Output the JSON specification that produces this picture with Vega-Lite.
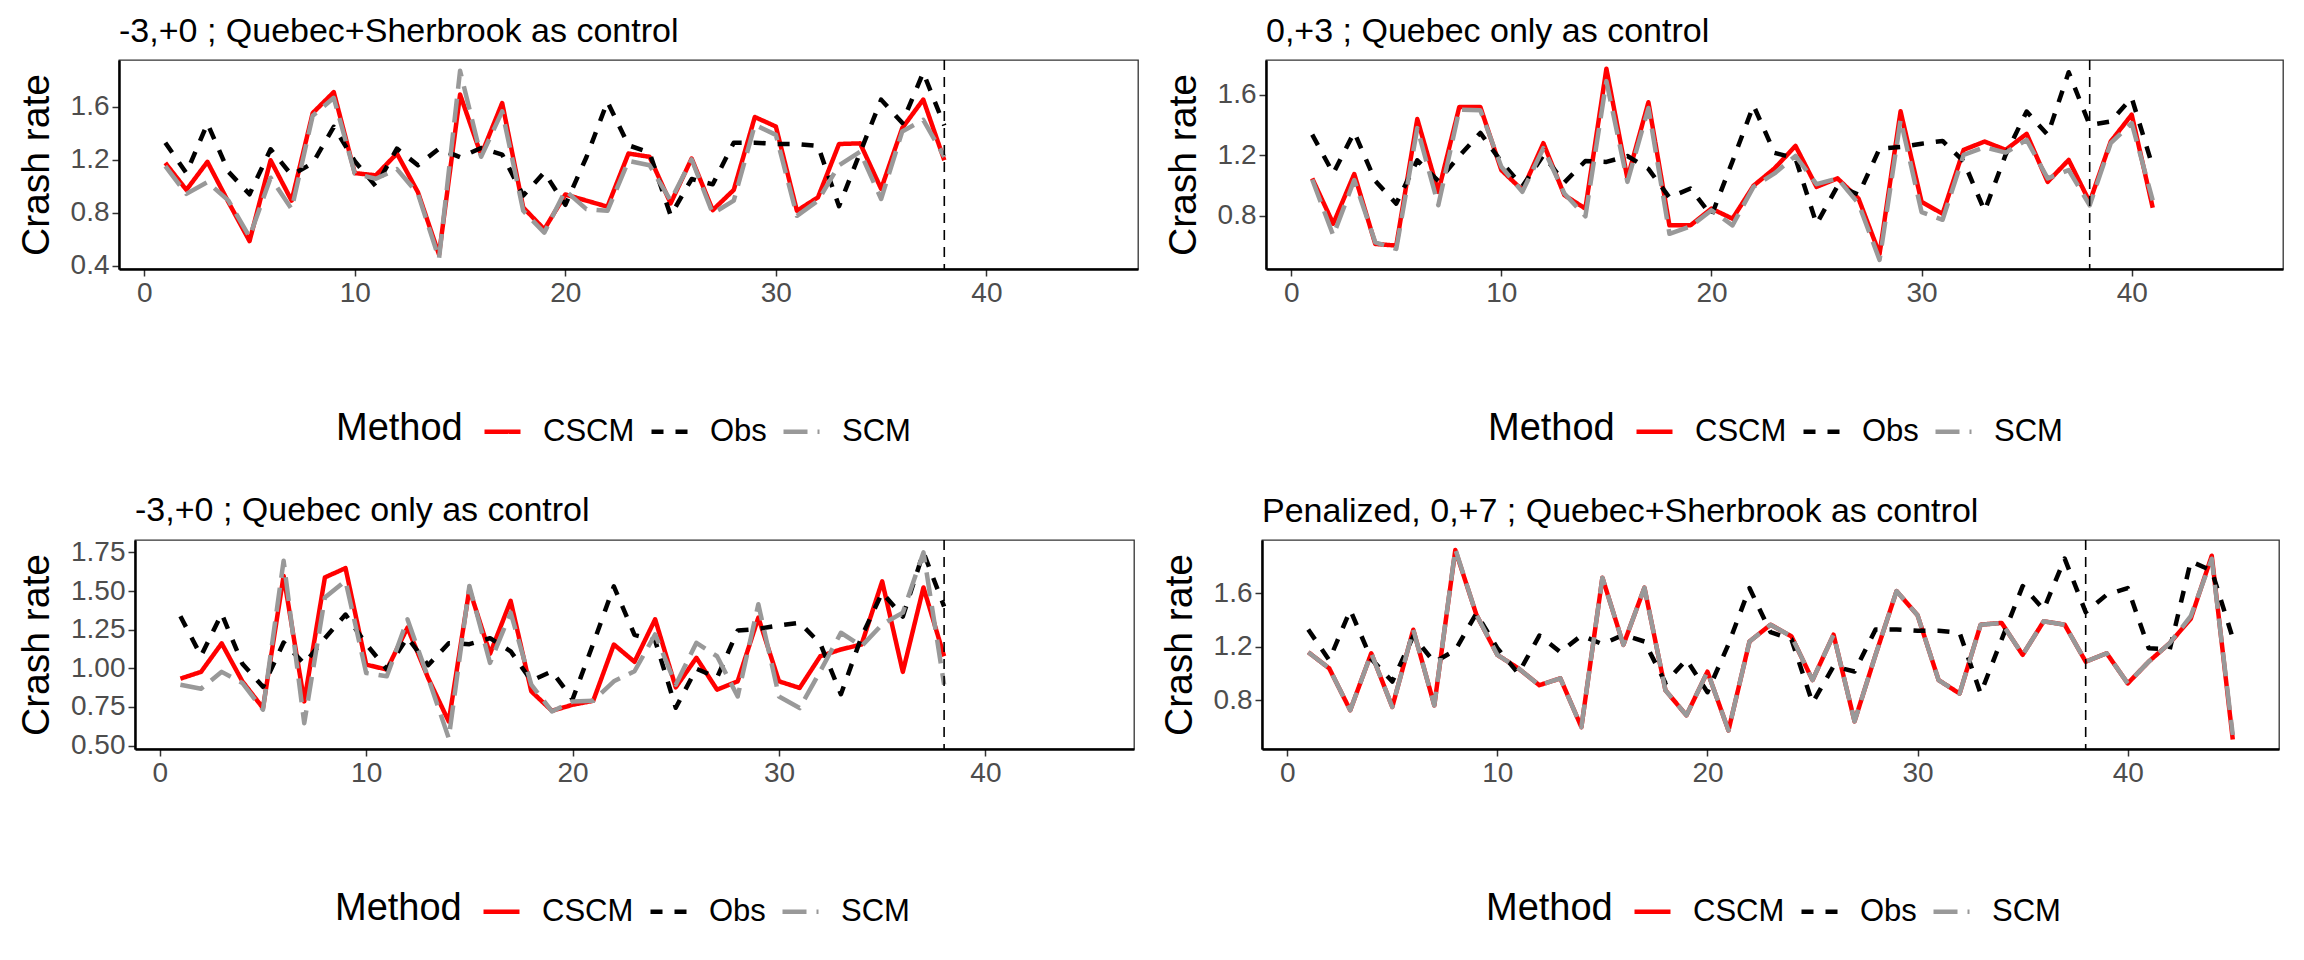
{
  "$schema": "https://vega.github.io/schema/vega-lite/v6.json",
  "padding": {"left": 15, "top": 14, "right": 10, "bottom": 10},
  "background": "white",
  "datasets": {
    "tl": [
      {"t":1,"Method":"CSCM","rate":1.177},{"t":2,"Method":"CSCM","rate":0.973},{"t":3,"Method":"CSCM","rate":1.185},{"t":4,"Method":"CSCM","rate":0.88},{"t":5,"Method":"CSCM","rate":0.586},{"t":6,"Method":"CSCM","rate":1.197},{"t":7,"Method":"CSCM","rate":0.892},{"t":8,"Method":"CSCM","rate":1.554},{"t":9,"Method":"CSCM","rate":1.712},{"t":10,"Method":"CSCM","rate":1.1},{"t":11,"Method":"CSCM","rate":1.083},{"t":12,"Method":"CSCM","rate":1.248},{"t":13,"Method":"CSCM","rate":0.955},{"t":14,"Method":"CSCM","rate":0.484},{"t":15,"Method":"CSCM","rate":1.694},{"t":16,"Method":"CSCM","rate":1.236},{"t":17,"Method":"CSCM","rate":1.63},{"t":18,"Method":"CSCM","rate":0.84},{"t":19,"Method":"CSCM","rate":0.675},{"t":20,"Method":"CSCM","rate":0.938},{"t":21,"Method":"CSCM","rate":0.892},{"t":22,"Method":"CSCM","rate":0.846},{"t":23,"Method":"CSCM","rate":1.248},{"t":24,"Method":"CSCM","rate":1.223},{"t":25,"Method":"CSCM","rate":0.871},{"t":26,"Method":"CSCM","rate":1.21},{"t":27,"Method":"CSCM","rate":0.82},{"t":28,"Method":"CSCM","rate":0.973},{"t":29,"Method":"CSCM","rate":1.524},{"t":30,"Method":"CSCM","rate":1.452},{"t":31,"Method":"CSCM","rate":0.815},{"t":32,"Method":"CSCM","rate":0.917},{"t":33,"Method":"CSCM","rate":1.32},{"t":34,"Method":"CSCM","rate":1.325},{"t":35,"Method":"CSCM","rate":0.981},{"t":36,"Method":"CSCM","rate":1.44},{"t":37,"Method":"CSCM","rate":1.656},{"t":38,"Method":"CSCM","rate":1.197},
      {"t":1,"Method":"Obs","rate":1.33},{"t":2,"Method":"Obs","rate":1.1},{"t":3,"Method":"Obs","rate":1.475},{"t":4,"Method":"Obs","rate":1.11},{"t":5,"Method":"Obs","rate":0.94},{"t":6,"Method":"Obs","rate":1.28},{"t":7,"Method":"Obs","rate":1.085},{"t":8,"Method":"Obs","rate":1.175},{"t":9,"Method":"Obs","rate":1.45},{"t":10,"Method":"Obs","rate":1.19},{"t":11,"Method":"Obs","rate":1.0},{"t":12,"Method":"Obs","rate":1.285},{"t":13,"Method":"Obs","rate":1.16},{"t":14,"Method":"Obs","rate":1.285},{"t":15,"Method":"Obs","rate":1.22},{"t":16,"Method":"Obs","rate":1.29},{"t":17,"Method":"Obs","rate":1.24},{"t":18,"Method":"Obs","rate":0.93},{"t":19,"Method":"Obs","rate":1.105},{"t":20,"Method":"Obs","rate":0.86},{"t":21,"Method":"Obs","rate":1.22},{"t":22,"Method":"Obs","rate":1.64},{"t":23,"Method":"Obs","rate":1.31},{"t":24,"Method":"Obs","rate":1.255},{"t":25,"Method":"Obs","rate":0.78},{"t":26,"Method":"Obs","rate":1.055},{"t":27,"Method":"Obs","rate":1.015},{"t":28,"Method":"Obs","rate":1.33},{"t":29,"Method":"Obs","rate":1.33},{"t":30,"Method":"Obs","rate":1.32},{"t":31,"Method":"Obs","rate":1.32},{"t":32,"Method":"Obs","rate":1.305},{"t":33,"Method":"Obs","rate":0.85},{"t":34,"Method":"Obs","rate":1.255},{"t":35,"Method":"Obs","rate":1.655},{"t":36,"Method":"Obs","rate":1.48},{"t":37,"Method":"Obs","rate":1.86},{"t":38,"Method":"Obs","rate":1.46},
      {"t":1,"Method":"SCM","rate":1.152},{"t":2,"Method":"SCM","rate":0.943},{"t":3,"Method":"SCM","rate":1.032},{"t":4,"Method":"SCM","rate":0.892},{"t":5,"Method":"SCM","rate":0.617},{"t":6,"Method":"SCM","rate":1.065},{"t":7,"Method":"SCM","rate":0.828},{"t":8,"Method":"SCM","rate":1.534},{"t":9,"Method":"SCM","rate":1.669},{"t":10,"Method":"SCM","rate":1.096},{"t":11,"Method":"SCM","rate":1.057},{"t":12,"Method":"SCM","rate":1.13},{"t":13,"Method":"SCM","rate":0.943},{"t":14,"Method":"SCM","rate":0.453},{"t":15,"Method":"SCM","rate":1.873},{"t":16,"Method":"SCM","rate":1.223},{"t":17,"Method":"SCM","rate":1.567},{"t":18,"Method":"SCM","rate":0.815},{"t":19,"Method":"SCM","rate":0.65},{"t":20,"Method":"SCM","rate":0.968},{"t":21,"Method":"SCM","rate":0.828},{"t":22,"Method":"SCM","rate":0.815},{"t":23,"Method":"SCM","rate":1.192},{"t":24,"Method":"SCM","rate":1.159},{"t":25,"Method":"SCM","rate":0.892},{"t":26,"Method":"SCM","rate":1.203},{"t":27,"Method":"SCM","rate":0.795},{"t":28,"Method":"SCM","rate":0.892},{"t":29,"Method":"SCM","rate":1.465},{"t":30,"Method":"SCM","rate":1.389},{"t":31,"Method":"SCM","rate":0.777},{"t":32,"Method":"SCM","rate":0.892},{"t":33,"Method":"SCM","rate":1.159},{"t":34,"Method":"SCM","rate":1.261},{"t":35,"Method":"SCM","rate":0.904},{"t":36,"Method":"SCM","rate":1.414},{"t":37,"Method":"SCM","rate":1.503},{"t":38,"Method":"SCM","rate":1.223}
    ],
    "tr": [
      {"t":1,"Method":"CSCM","rate":1.047},{"t":2,"Method":"CSCM","rate":0.747},{"t":3,"Method":"CSCM","rate":1.076},{"t":4,"Method":"CSCM","rate":0.613},{"t":5,"Method":"CSCM","rate":0.602},{"t":6,"Method":"CSCM","rate":1.44},{"t":7,"Method":"CSCM","rate":0.958},{"t":8,"Method":"CSCM","rate":1.52},{"t":9,"Method":"CSCM","rate":1.52},{"t":10,"Method":"CSCM","rate":1.102},{"t":11,"Method":"CSCM","rate":0.969},{"t":12,"Method":"CSCM","rate":1.28},{"t":13,"Method":"CSCM","rate":0.936},{"t":14,"Method":"CSCM","rate":0.847},{"t":15,"Method":"CSCM","rate":1.773},{"t":16,"Method":"CSCM","rate":1.047},{"t":17,"Method":"CSCM","rate":1.551},{"t":18,"Method":"CSCM","rate":0.736},{"t":19,"Method":"CSCM","rate":0.736},{"t":20,"Method":"CSCM","rate":0.847},{"t":21,"Method":"CSCM","rate":0.78},{"t":22,"Method":"CSCM","rate":0.998},{"t":23,"Method":"CSCM","rate":1.113},{"t":24,"Method":"CSCM","rate":1.262},{"t":25,"Method":"CSCM","rate":0.991},{"t":26,"Method":"CSCM","rate":1.047},{"t":27,"Method":"CSCM","rate":0.913},{"t":28,"Method":"CSCM","rate":0.547},{"t":29,"Method":"CSCM","rate":1.491},{"t":30,"Method":"CSCM","rate":0.891},{"t":31,"Method":"CSCM","rate":0.813},{"t":32,"Method":"CSCM","rate":1.236},{"t":33,"Method":"CSCM","rate":1.291},{"t":34,"Method":"CSCM","rate":1.236},{"t":35,"Method":"CSCM","rate":1.342},{"t":36,"Method":"CSCM","rate":1.024},{"t":37,"Method":"CSCM","rate":1.169},{"t":38,"Method":"CSCM","rate":0.891},{"t":39,"Method":"CSCM","rate":1.291},{"t":40,"Method":"CSCM","rate":1.469},{"t":41,"Method":"CSCM","rate":0.853},
      {"t":1,"Method":"Obs","rate":1.337},{"t":2,"Method":"Obs","rate":1.08},{"t":3,"Method":"Obs","rate":1.353},{"t":4,"Method":"Obs","rate":1.03},{"t":5,"Method":"Obs","rate":0.88},{"t":6,"Method":"Obs","rate":1.167},{"t":7,"Method":"Obs","rate":1.03},{"t":8,"Method":"Obs","rate":1.195},{"t":9,"Method":"Obs","rate":1.348},{"t":10,"Method":"Obs","rate":1.157},{"t":11,"Method":"Obs","rate":0.994},{"t":12,"Method":"Obs","rate":1.2},{"t":13,"Method":"Obs","rate":1.02},{"t":14,"Method":"Obs","rate":1.162},{"t":15,"Method":"Obs","rate":1.156},{"t":16,"Method":"Obs","rate":1.195},{"t":17,"Method":"Obs","rate":1.11},{"t":18,"Method":"Obs","rate":0.92},{"t":19,"Method":"Obs","rate":0.98},{"t":20,"Method":"Obs","rate":0.8},{"t":21,"Method":"Obs","rate":1.16},{"t":22,"Method":"Obs","rate":1.53},{"t":23,"Method":"Obs","rate":1.216},{"t":24,"Method":"Obs","rate":1.18},{"t":25,"Method":"Obs","rate":0.745},{"t":26,"Method":"Obs","rate":0.997},{"t":27,"Method":"Obs","rate":0.94},{"t":28,"Method":"Obs","rate":1.244},{"t":29,"Method":"Obs","rate":1.255},{"t":30,"Method":"Obs","rate":1.277},{"t":31,"Method":"Obs","rate":1.295},{"t":32,"Method":"Obs","rate":1.16},{"t":33,"Method":"Obs","rate":0.832},{"t":34,"Method":"Obs","rate":1.204},{"t":35,"Method":"Obs","rate":1.49},{"t":36,"Method":"Obs","rate":1.335},{"t":37,"Method":"Obs","rate":1.75},{"t":38,"Method":"Obs","rate":1.4},{"t":39,"Method":"Obs","rate":1.424},{"t":40,"Method":"Obs","rate":1.58},{"t":41,"Method":"Obs","rate":1.124},
      {"t":1,"Method":"SCM","rate":1.04},{"t":2,"Method":"SCM","rate":0.669},{"t":3,"Method":"SCM","rate":1.036},{"t":4,"Method":"SCM","rate":0.624},{"t":5,"Method":"SCM","rate":0.58},{"t":6,"Method":"SCM","rate":1.38},{"t":7,"Method":"SCM","rate":0.869},{"t":8,"Method":"SCM","rate":1.502},{"t":9,"Method":"SCM","rate":1.498},{"t":10,"Method":"SCM","rate":1.124},{"t":11,"Method":"SCM","rate":0.958},{"t":12,"Method":"SCM","rate":1.247},{"t":13,"Method":"SCM","rate":0.947},{"t":14,"Method":"SCM","rate":0.796},{"t":15,"Method":"SCM","rate":1.691},{"t":16,"Method":"SCM","rate":1.024},{"t":17,"Method":"SCM","rate":1.513},{"t":18,"Method":"SCM","rate":0.68},{"t":19,"Method":"SCM","rate":0.729},{"t":20,"Method":"SCM","rate":0.836},{"t":21,"Method":"SCM","rate":0.736},{"t":22,"Method":"SCM","rate":0.991},{"t":23,"Method":"SCM","rate":1.08},{"t":24,"Method":"SCM","rate":1.196},{"t":25,"Method":"SCM","rate":1.009},{"t":26,"Method":"SCM","rate":1.047},{"t":27,"Method":"SCM","rate":0.88},{"t":28,"Method":"SCM","rate":0.507},{"t":29,"Method":"SCM","rate":1.436},{"t":30,"Method":"SCM","rate":0.824},{"t":31,"Method":"SCM","rate":0.773},{"t":32,"Method":"SCM","rate":1.202},{"t":33,"Method":"SCM","rate":1.253},{"t":34,"Method":"SCM","rate":1.218},{"t":35,"Method":"SCM","rate":1.302},{"t":36,"Method":"SCM","rate":1.047},{"t":37,"Method":"SCM","rate":1.102},{"t":38,"Method":"SCM","rate":0.869},{"t":39,"Method":"SCM","rate":1.28},{"t":40,"Method":"SCM","rate":1.413},{"t":41,"Method":"SCM","rate":0.902}
    ],
    "bl": [
      {"t":1,"Method":"CSCM","rate":0.933},{"t":2,"Method":"CSCM","rate":0.977},{"t":3,"Method":"CSCM","rate":1.161},{"t":4,"Method":"CSCM","rate":0.916},{"t":5,"Method":"CSCM","rate":0.743},{"t":6,"Method":"CSCM","rate":1.598},{"t":7,"Method":"CSCM","rate":0.786},{"t":8,"Method":"CSCM","rate":1.588},{"t":9,"Method":"CSCM","rate":1.648},{"t":10,"Method":"CSCM","rate":1.024},{"t":11,"Method":"CSCM","rate":0.992},{"t":12,"Method":"CSCM","rate":1.263},{"t":13,"Method":"CSCM","rate":0.938},{"t":14,"Method":"CSCM","rate":0.656},{"t":15,"Method":"CSCM","rate":1.512},{"t":16,"Method":"CSCM","rate":1.094},{"t":17,"Method":"CSCM","rate":1.436},{"t":18,"Method":"CSCM","rate":0.851},{"t":19,"Method":"CSCM","rate":0.725},{"t":20,"Method":"CSCM","rate":0.764},{"t":21,"Method":"CSCM","rate":0.79},{"t":22,"Method":"CSCM","rate":1.154},{"t":23,"Method":"CSCM","rate":1.042},{"t":24,"Method":"CSCM","rate":1.317},{"t":25,"Method":"CSCM","rate":0.877},{"t":26,"Method":"CSCM","rate":1.068},{"t":27,"Method":"CSCM","rate":0.862},{"t":28,"Method":"CSCM","rate":0.916},{"t":29,"Method":"CSCM","rate":1.328},{"t":30,"Method":"CSCM","rate":0.916},{"t":31,"Method":"CSCM","rate":0.873},{"t":32,"Method":"CSCM","rate":1.078},{"t":33,"Method":"CSCM","rate":1.122},{"t":34,"Method":"CSCM","rate":1.154},{"t":35,"Method":"CSCM","rate":1.562},{"t":36,"Method":"CSCM","rate":0.977},{"t":37,"Method":"CSCM","rate":1.523},{"t":38,"Method":"CSCM","rate":1.078},
      {"t":1,"Method":"Obs","rate":1.337},{"t":2,"Method":"Obs","rate":1.08},{"t":3,"Method":"Obs","rate":1.353},{"t":4,"Method":"Obs","rate":1.03},{"t":5,"Method":"Obs","rate":0.88},{"t":6,"Method":"Obs","rate":1.167},{"t":7,"Method":"Obs","rate":1.03},{"t":8,"Method":"Obs","rate":1.195},{"t":9,"Method":"Obs","rate":1.348},{"t":10,"Method":"Obs","rate":1.157},{"t":11,"Method":"Obs","rate":0.994},{"t":12,"Method":"Obs","rate":1.2},{"t":13,"Method":"Obs","rate":1.02},{"t":14,"Method":"Obs","rate":1.162},{"t":15,"Method":"Obs","rate":1.156},{"t":16,"Method":"Obs","rate":1.195},{"t":17,"Method":"Obs","rate":1.11},{"t":18,"Method":"Obs","rate":0.92},{"t":19,"Method":"Obs","rate":0.98},{"t":20,"Method":"Obs","rate":0.8},{"t":21,"Method":"Obs","rate":1.16},{"t":22,"Method":"Obs","rate":1.53},{"t":23,"Method":"Obs","rate":1.216},{"t":24,"Method":"Obs","rate":1.18},{"t":25,"Method":"Obs","rate":0.745},{"t":26,"Method":"Obs","rate":0.997},{"t":27,"Method":"Obs","rate":0.94},{"t":28,"Method":"Obs","rate":1.244},{"t":29,"Method":"Obs","rate":1.255},{"t":30,"Method":"Obs","rate":1.277},{"t":31,"Method":"Obs","rate":1.295},{"t":32,"Method":"Obs","rate":1.16},{"t":33,"Method":"Obs","rate":0.832},{"t":34,"Method":"Obs","rate":1.204},{"t":35,"Method":"Obs","rate":1.49},{"t":36,"Method":"Obs","rate":1.335},{"t":37,"Method":"Obs","rate":1.75},{"t":38,"Method":"Obs","rate":1.4},
      {"t":1,"Method":"SCM","rate":0.894},{"t":2,"Method":"SCM","rate":0.868},{"t":3,"Method":"SCM","rate":0.977},{"t":4,"Method":"SCM","rate":0.905},{"t":5,"Method":"SCM","rate":0.732},{"t":6,"Method":"SCM","rate":1.696},{"t":7,"Method":"SCM","rate":0.645},{"t":8,"Method":"SCM","rate":1.458},{"t":9,"Method":"SCM","rate":1.566},{"t":10,"Method":"SCM","rate":0.97},{"t":11,"Method":"SCM","rate":0.948},{"t":12,"Method":"SCM","rate":1.317},{"t":13,"Method":"SCM","rate":0.94},{"t":14,"Method":"SCM","rate":0.548},{"t":15,"Method":"SCM","rate":1.533},{"t":16,"Method":"SCM","rate":1.035},{"t":17,"Method":"SCM","rate":1.36},{"t":18,"Method":"SCM","rate":0.894},{"t":19,"Method":"SCM","rate":0.721},{"t":20,"Method":"SCM","rate":0.786},{"t":21,"Method":"SCM","rate":0.79},{"t":22,"Method":"SCM","rate":0.916},{"t":23,"Method":"SCM","rate":0.981},{"t":24,"Method":"SCM","rate":1.219},{"t":25,"Method":"SCM","rate":0.894},{"t":26,"Method":"SCM","rate":1.165},{"t":27,"Method":"SCM","rate":1.078},{"t":28,"Method":"SCM","rate":0.818},{"t":29,"Method":"SCM","rate":1.414},{"t":30,"Method":"SCM","rate":0.818},{"t":31,"Method":"SCM","rate":0.743},{"t":32,"Method":"SCM","rate":0.981},{"t":33,"Method":"SCM","rate":1.23},{"t":34,"Method":"SCM","rate":1.143},{"t":35,"Method":"SCM","rate":1.284},{"t":36,"Method":"SCM","rate":1.36},{"t":37,"Method":"SCM","rate":1.75},{"t":38,"Method":"SCM","rate":0.894}
    ],
    "br": [
      {"t":1,"Method":"CSCM","rate":1.16},{"t":2,"Method":"CSCM","rate":1.039},{"t":3,"Method":"CSCM","rate":0.725},{"t":4,"Method":"CSCM","rate":1.152},{"t":5,"Method":"CSCM","rate":0.75},{"t":6,"Method":"CSCM","rate":1.328},{"t":7,"Method":"CSCM","rate":0.762},{"t":8,"Method":"CSCM","rate":1.925},{"t":9,"Method":"CSCM","rate":1.442},{"t":10,"Method":"CSCM","rate":1.14},{"t":11,"Method":"CSCM","rate":1.039},{"t":12,"Method":"CSCM","rate":0.913},{"t":13,"Method":"CSCM","rate":0.964},{"t":14,"Method":"CSCM","rate":0.599},{"t":15,"Method":"CSCM","rate":1.718},{"t":16,"Method":"CSCM","rate":1.215},{"t":17,"Method":"CSCM","rate":1.643},{"t":18,"Method":"CSCM","rate":0.875},{"t":19,"Method":"CSCM","rate":0.687},{"t":20,"Method":"CSCM","rate":1.014},{"t":21,"Method":"CSCM","rate":0.574},{"t":22,"Method":"CSCM","rate":1.24},{"t":23,"Method":"CSCM","rate":1.366},{"t":24,"Method":"CSCM","rate":1.278},{"t":25,"Method":"CSCM","rate":0.951},{"t":26,"Method":"CSCM","rate":1.291},{"t":27,"Method":"CSCM","rate":0.642},{"t":28,"Method":"CSCM","rate":1.14},{"t":29,"Method":"CSCM","rate":1.618},{"t":30,"Method":"CSCM","rate":1.436},{"t":31,"Method":"CSCM","rate":0.951},{"t":32,"Method":"CSCM","rate":0.85},{"t":33,"Method":"CSCM","rate":1.366},{"t":34,"Method":"CSCM","rate":1.379},{"t":35,"Method":"CSCM","rate":1.14},{"t":36,"Method":"CSCM","rate":1.391},{"t":37,"Method":"CSCM","rate":1.366},{"t":38,"Method":"CSCM","rate":1.089},{"t":39,"Method":"CSCM","rate":1.152},{"t":40,"Method":"CSCM","rate":0.926},{"t":41,"Method":"CSCM","rate":1.089},{"t":42,"Method":"CSCM","rate":1.228},{"t":43,"Method":"CSCM","rate":1.41},{"t":44,"Method":"CSCM","rate":1.882},{"t":45,"Method":"CSCM","rate":0.506},
      {"t":1,"Method":"Obs","rate":1.33},{"t":2,"Method":"Obs","rate":1.1},{"t":3,"Method":"Obs","rate":1.475},{"t":4,"Method":"Obs","rate":1.11},{"t":5,"Method":"Obs","rate":0.94},{"t":6,"Method":"Obs","rate":1.28},{"t":7,"Method":"Obs","rate":1.085},{"t":8,"Method":"Obs","rate":1.175},{"t":9,"Method":"Obs","rate":1.45},{"t":10,"Method":"Obs","rate":1.19},{"t":11,"Method":"Obs","rate":1.0},{"t":12,"Method":"Obs","rate":1.285},{"t":13,"Method":"Obs","rate":1.16},{"t":14,"Method":"Obs","rate":1.285},{"t":15,"Method":"Obs","rate":1.22},{"t":16,"Method":"Obs","rate":1.29},{"t":17,"Method":"Obs","rate":1.24},{"t":18,"Method":"Obs","rate":0.93},{"t":19,"Method":"Obs","rate":1.105},{"t":20,"Method":"Obs","rate":0.86},{"t":21,"Method":"Obs","rate":1.22},{"t":22,"Method":"Obs","rate":1.64},{"t":23,"Method":"Obs","rate":1.31},{"t":24,"Method":"Obs","rate":1.255},{"t":25,"Method":"Obs","rate":0.78},{"t":26,"Method":"Obs","rate":1.055},{"t":27,"Method":"Obs","rate":1.015},{"t":28,"Method":"Obs","rate":1.33},{"t":29,"Method":"Obs","rate":1.33},{"t":30,"Method":"Obs","rate":1.32},{"t":31,"Method":"Obs","rate":1.32},{"t":32,"Method":"Obs","rate":1.305},{"t":33,"Method":"Obs","rate":0.85},{"t":34,"Method":"Obs","rate":1.255},{"t":35,"Method":"Obs","rate":1.655},{"t":36,"Method":"Obs","rate":1.48},{"t":37,"Method":"Obs","rate":1.86},{"t":38,"Method":"Obs","rate":1.46},{"t":39,"Method":"Obs","rate":1.59},{"t":40,"Method":"Obs","rate":1.64},{"t":41,"Method":"Obs","rate":1.19},{"t":42,"Method":"Obs","rate":1.18},{"t":43,"Method":"Obs","rate":1.84},{"t":44,"Method":"Obs","rate":1.77},{"t":45,"Method":"Obs","rate":1.265},
      {"t":1,"Method":"SCM","rate":1.16},{"t":2,"Method":"SCM","rate":1.039},{"t":3,"Method":"SCM","rate":0.725},{"t":4,"Method":"SCM","rate":1.152},{"t":5,"Method":"SCM","rate":0.75},{"t":6,"Method":"SCM","rate":1.328},{"t":7,"Method":"SCM","rate":0.762},{"t":8,"Method":"SCM","rate":1.932},{"t":9,"Method":"SCM","rate":1.442},{"t":10,"Method":"SCM","rate":1.14},{"t":11,"Method":"SCM","rate":1.039},{"t":12,"Method":"SCM","rate":0.913},{"t":13,"Method":"SCM","rate":0.964},{"t":14,"Method":"SCM","rate":0.599},{"t":15,"Method":"SCM","rate":1.718},{"t":16,"Method":"SCM","rate":1.215},{"t":17,"Method":"SCM","rate":1.643},{"t":18,"Method":"SCM","rate":0.875},{"t":19,"Method":"SCM","rate":0.687},{"t":20,"Method":"SCM","rate":1.014},{"t":21,"Method":"SCM","rate":0.574},{"t":22,"Method":"SCM","rate":1.24},{"t":23,"Method":"SCM","rate":1.366},{"t":24,"Method":"SCM","rate":1.278},{"t":25,"Method":"SCM","rate":0.951},{"t":26,"Method":"SCM","rate":1.291},{"t":27,"Method":"SCM","rate":0.642},{"t":28,"Method":"SCM","rate":1.14},{"t":29,"Method":"SCM","rate":1.618},{"t":30,"Method":"SCM","rate":1.436},{"t":31,"Method":"SCM","rate":0.951},{"t":32,"Method":"SCM","rate":0.85},{"t":33,"Method":"SCM","rate":1.366},{"t":34,"Method":"SCM","rate":1.379},{"t":35,"Method":"SCM","rate":1.14},{"t":36,"Method":"SCM","rate":1.391},{"t":37,"Method":"SCM","rate":1.366},{"t":38,"Method":"SCM","rate":1.089},{"t":39,"Method":"SCM","rate":1.152},{"t":40,"Method":"SCM","rate":0.926},{"t":41,"Method":"SCM","rate":1.089},{"t":42,"Method":"SCM","rate":1.228},{"t":43,"Method":"SCM","rate":1.429},{"t":44,"Method":"SCM","rate":1.86},{"t":45,"Method":"SCM","rate":0.54}
    ]
  },
  "vconcat": [
    {
      "spacing": 0,
      "hconcat": [
        {"width": 1, "height": 1, "view": {"stroke": null}, "data": {"values": []}, "mark": "point", "encoding": {}},
        {
          "width": 1019, "height": 209,
          "title": "-3,+0 ; Quebec+Sherbrook as control",
          "layer": [
            {
              "data": {"name": "tl"},
              "mark": {"type": "line", "strokeWidth": 4.5, "strokeJoin": "round"},
              "encoding": {
                "x": {"field": "t", "type": "quantitative", "scale": {"domain": [-1.2, 47.2], "nice": false, "zero": false}, "axis": {"values": [0, 10, 20, 30, 40], "title": null}},
                "y": {"field": "rate", "type": "quantitative", "scale": {"domain": [0.375, 1.955], "nice": false, "zero": false}, "axis": {"values": [0.4, 0.8, 1.2, 1.6], "format": ".1f", "title": "Crash rate"}},
                "color": {"field": "Method", "type": "nominal", "title": "Method", "scale": {"domain": ["CSCM", "Obs", "SCM"], "range": ["#FF0000", "#000000", "#999999"]}, "legend": {"orient": "none", "legendX": 217, "legendY": 351}},
                "strokeDash": {"field": "Method", "type": "nominal", "title": "Method", "scale": {"domain": ["CSCM", "Obs", "SCM"], "range": [[1, 0], [12, 12], [24, 10]]}, "legend": {"orient": "none", "legendX": 217, "legendY": 351}}
              }
            },
            {
              "data": {"values": [{}]},
              "mark": {"type": "rule", "color": "black", "strokeWidth": 1.6, "strokeDash": [10, 7]},
              "encoding": {"x": {"datum": 38}}
            }
          ]
        },
        {"width": 24, "height": 1, "view": {"stroke": null}, "data": {"values": []}, "mark": "point", "encoding": {}},
        {
          "width": 1017, "height": 209,
          "title": "0,+3 ; Quebec only as control",
          "layer": [
            {
              "data": {"name": "tr"},
              "mark": {"type": "line", "strokeWidth": 4.5, "strokeJoin": "round"},
              "encoding": {
                "x": {"field": "t", "type": "quantitative", "scale": {"domain": [-1.2, 47.2], "nice": false, "zero": false}, "axis": {"values": [0, 10, 20, 30, 40], "title": null}},
                "y": {"field": "rate", "type": "quantitative", "scale": {"domain": [0.447, 1.831], "nice": false, "zero": false}, "axis": {"values": [0.8, 1.2, 1.6], "format": ".1f", "title": "Crash rate"}},
                "color": {"field": "Method", "type": "nominal", "title": "Method", "scale": {"domain": ["CSCM", "Obs", "SCM"], "range": ["#FF0000", "#000000", "#999999"]}, "legend": {"orient": "none", "legendX": 222, "legendY": 351}},
                "strokeDash": {"field": "Method", "type": "nominal", "title": "Method", "scale": {"domain": ["CSCM", "Obs", "SCM"], "range": [[1, 0], [12, 12], [24, 10]]}, "legend": {"orient": "none", "legendX": 222, "legendY": 351}}
              }
            },
            {
              "data": {"values": [{}]},
              "mark": {"type": "rule", "color": "black", "strokeWidth": 1.6, "strokeDash": [10, 7]},
              "encoding": {"x": {"datum": 38}}
            }
          ]
        }
      ],
      "resolve": {"scale": {"color": "independent", "strokeDash": "independent", "x": "independent", "y": "independent"}}
    },
    {
      "spacing": 0,
      "hconcat": [
        {"width": 1, "height": 1, "view": {"stroke": null}, "data": {"values": []}, "mark": "point", "encoding": {}},
        {
          "width": 999, "height": 209,
          "title": "-3,+0 ; Quebec only as control",
          "layer": [
            {
              "data": {"name": "bl"},
              "mark": {"type": "line", "strokeWidth": 4.5, "strokeJoin": "round"},
              "encoding": {
                "x": {"field": "t", "type": "quantitative", "scale": {"domain": [-1.2, 47.2], "nice": false, "zero": false}, "axis": {"values": [0, 10, 20, 30, 40], "title": null}},
                "y": {"field": "rate", "type": "quantitative", "scale": {"domain": [0.478, 1.83], "nice": false, "zero": false}, "axis": {"values": [0.5, 0.75, 1.0, 1.25, 1.5, 1.75], "format": ".2f", "title": "Crash rate"}},
                "color": {"field": "Method", "type": "nominal", "title": "Method", "scale": {"domain": ["CSCM", "Obs", "SCM"], "range": ["#FF0000", "#000000", "#999999"]}, "legend": {"orient": "none", "legendX": 200, "legendY": 351}},
                "strokeDash": {"field": "Method", "type": "nominal", "title": "Method", "scale": {"domain": ["CSCM", "Obs", "SCM"], "range": [[1, 0], [12, 12], [24, 10]]}, "legend": {"orient": "none", "legendX": 200, "legendY": 351}}
              }
            },
            {
              "data": {"values": [{}]},
              "mark": {"type": "rule", "color": "black", "strokeWidth": 1.6, "strokeDash": [10, 7]},
              "encoding": {"x": {"datum": 38}}
            }
          ]
        },
        {"width": 24, "height": 1, "view": {"stroke": null}, "data": {"values": []}, "mark": "point", "encoding": {}},
        {
          "width": 1017, "height": 209,
          "title": "Penalized, 0,+7 ; Quebec+Sherbrook as control",
          "layer": [
            {
              "data": {"name": "br"},
              "mark": {"type": "line", "strokeWidth": 4.5, "strokeJoin": "round"},
              "encoding": {
                "x": {"field": "t", "type": "quantitative", "scale": {"domain": [-1.2, 47.2], "nice": false, "zero": false}, "axis": {"values": [0, 10, 20, 30, 40], "title": null}},
                "y": {"field": "rate", "type": "quantitative", "scale": {"domain": [0.435, 2.0], "nice": false, "zero": false}, "axis": {"values": [0.8, 1.2, 1.6], "format": ".1f", "title": "Crash rate"}},
                "color": {"field": "Method", "type": "nominal", "title": "Method", "scale": {"domain": ["CSCM", "Obs", "SCM"], "range": ["#FF0000", "#000000", "#999999"]}, "legend": {"orient": "none", "legendX": 224, "legendY": 351}},
                "strokeDash": {"field": "Method", "type": "nominal", "title": "Method", "scale": {"domain": ["CSCM", "Obs", "SCM"], "range": [[1, 0], [12, 12], [24, 10]]}, "legend": {"orient": "none", "legendX": 224, "legendY": 351}}
              }
            },
            {
              "data": {"values": [{}]},
              "mark": {"type": "rule", "color": "black", "strokeWidth": 1.6, "strokeDash": [10, 7]},
              "encoding": {"x": {"datum": 38}}
            }
          ]
        }
      ],
      "resolve": {"scale": {"color": "independent", "strokeDash": "independent", "x": "independent", "y": "independent"}}
    }
  ],
  "resolve": {"scale": {"color": "independent", "strokeDash": "independent", "x": "independent", "y": "independent"}},
  "spacing": 44,
  "config": {
    "font": "Liberation Sans",
    "view": {"stroke": "#333333", "strokeWidth": 1.3},
    "title": {"anchor": "start", "frame": "group", "fontSize": 34, "fontWeight": "normal", "color": "black", "offset": 10},
    "axis": {
      "grid": false,
      "labelFontSize": 28,
      "labelColor": "#4D4D4D",
      "labelFlush": false,
      "labelPadding": 3,
      "titleFontSize": 39,
      "titleFontWeight": "normal",
      "titleColor": "black",
      "tickColor": "#333333",
      "tickSize": 7,
      "tickWidth": 1.5,
      "domainColor": "black",
      "domainWidth": 2.5
    },
    "axisY": {"titlePadding": 14},
    "legend": {
      "direction": "horizontal",
      "titleOrient": "left",
      "titleFontSize": 38,
      "titleFontWeight": "normal",
      "titleColor": "black",
      "titlePadding": 19,
      "labelFontSize": 31,
      "labelColor": "black",
      "labelOffset": 20,
      "columnPadding": 7,
      "symbolType": "stroke",
      "symbolSize": 1296,
      "symbolStrokeWidth": 4.5
    }
  }
}
